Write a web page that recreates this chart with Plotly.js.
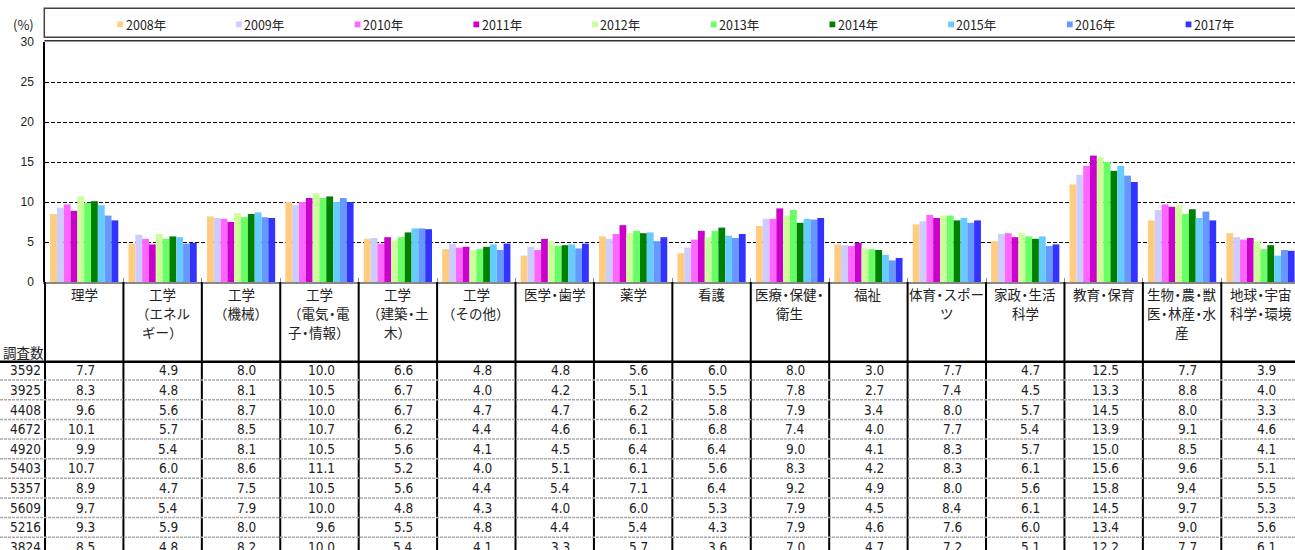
<!DOCTYPE html>
<html>
<head>
<meta charset="utf-8">
<script src="https://cdn.plot.ly/plotly-3.0.1.min.js"></script>
<style>html,body{margin:0;padding:0;background:#fff;}</style>
</head>
<body>
<div id="chart" style="width:1295px;height:550px;"></div>
<script>
// ---------------- DATA ----------------
const categories = ['理学', '工学（エネルギー）', '工学（機械）', '工学（電気・電子・情報）', '工学（建築・土木）', '工学（その他）', '医学・歯学', '薬学', '看護', '医療・保健・衛生', '福祉', '体育・スポーツ', '家政・生活科学', '教育・保育', '生物・農・獣医・林産・水産', '地球・宇宙科学・環境'];
const headerLabels = ['理学', '工学\n（エネル\nギー）', '工学\n（機械）', '工学\n（電気・電\n子・情報）', '工学\n（建築・土\n木）', '工学\n（その他）', '医学・歯学', '薬学', '看護', '医療・保健・\n衛生', '福祉', '体育・スポー\nツ', '家政・生活\n科学', '教育・保育', '生物・農・獣\n医・林産・水\n産', '地球・宇宙\n科学・環境'];
const years = ['2008年', '2009年', '2010年', '2011年', '2012年', '2013年', '2014年', '2015年', '2016年', '2017年'];
const surveyCounts = [3824, 5216, 5609, 5357, 5403, 4920, 4672, 4408, 3925, 3592];
const v2008 = [8.5, 4.8, 8.2, 10.0, 5.4, 4.1, 3.3, 5.7, 3.6, 7.0, 4.7, 7.2, 5.1, 12.2, 7.7, 6.1];
const v2009 = [9.3, 5.9, 8.0, 9.6, 5.5, 4.8, 4.4, 5.4, 4.3, 7.9, 4.6, 7.6, 6.0, 13.4, 9.0, 5.6];
const v2010 = [9.7, 5.4, 7.9, 10.0, 4.8, 4.3, 4.0, 6.0, 5.3, 7.9, 4.5, 8.4, 6.1, 14.5, 9.7, 5.3];
const v2011 = [8.9, 4.7, 7.5, 10.5, 5.6, 4.4, 5.4, 7.1, 6.4, 9.2, 4.9, 8.0, 5.6, 15.8, 9.4, 5.5];
const v2012 = [10.7, 6.0, 8.6, 11.1, 5.2, 4.0, 5.1, 6.1, 5.6, 8.3, 4.2, 8.3, 6.1, 15.6, 9.6, 5.1];
const v2013 = [9.9, 5.4, 8.1, 10.5, 5.6, 4.1, 4.5, 6.4, 6.4, 9.0, 4.1, 8.3, 5.7, 15.0, 8.5, 4.1];
const v2014 = [10.1, 5.7, 8.5, 10.7, 6.2, 4.4, 4.6, 6.1, 6.8, 7.4, 4.0, 7.7, 5.4, 13.9, 9.1, 4.6];
const v2015 = [9.6, 5.6, 8.7, 10.0, 6.7, 4.7, 4.7, 6.2, 5.8, 7.9, 3.4, 8.0, 5.7, 14.5, 8.0, 3.3];
const v2016 = [8.3, 4.8, 8.1, 10.5, 6.7, 4.0, 4.2, 5.1, 5.5, 7.8, 2.7, 7.4, 4.5, 13.3, 8.8, 4.0];
const v2017 = [7.7, 4.9, 8.0, 10.0, 6.6, 4.8, 4.8, 5.6, 6.0, 8.0, 3.0, 7.7, 4.7, 12.5, 7.7, 3.9];
const seriesValues = [v2008, v2009, v2010, v2011, v2012, v2013, v2014, v2015, v2016, v2017];
const yTickValues = [0, 5, 10, 15, 20, 25, 30];
const unitLabel = '(%)';
const countHeader = '調査数';

// ---------------- STYLE ----------------
const colors = ['#FFCC80', '#CCCCFF', '#FF66FF', '#CC00CC', '#CCFF99', '#66FF66', '#008000', '#66CCFF', '#6699FF', '#3333FF'];
const W = 1295, H = 550, L = 45, T = 42, B = 268;
const PH = H - T - B, PW = W - L;
const px = X => (X - L) / PW;
const py = Y => (T + PH - Y) / PH;
const jpFont = '"Noto Sans CJK JP", "Noto Sans", sans-serif';
const numFont = '"DejaVu Sans Condensed", Tahoma, "DejaVu Sans", sans-serif';
// tighten the full-width middle dot like a proportional Japanese font
const tighten = s => s.replace(/(.)・/g, '<span style="letter-spacing:-3px">$1・</span>');

const traces = seriesValues.map((vals, i) => ({
  type: 'bar',
  name: years[i],
  x: categories,
  y: vals,
  marker: {color: colors[i], line: {width: 0}},
  showlegend: false,
  hovertemplate: '%{x}<br>' + years[i] + ': %{y:.1f}%<extra></extra>'
}));

const shapes = [];
const annotations = [];

// legend box
shapes.push({type: 'rect', xref: 'paper', yref: 'paper', x0: px(44.3), x1: 1.02, y0: py(37.3), y1: py(8.3), line: {color: '#444', width: 1.5}, fillcolor: 'rgba(0,0,0,0)', layer: 'above'});
// plot frame top
shapes.push({type: 'line', xref: 'paper', yref: 'paper', x0: px(44.3), x1: 1.02, y0: py(40.7), y1: py(40.7), line: {color: '#333', width: 1.5}});

// legend entries
years.forEach((yr, i) => {
  const sx = 117.3 + 118.7 * i;
  shapes.push({type: 'rect', xref: 'paper', yref: 'paper', x0: px(sx), x1: px(sx + 5.8), y0: py(27.3), y1: py(21.5), line: {width: 0}, fillcolor: colors[i]});
  annotations.push({xref: 'paper', yref: 'paper', x: px(sx + 6.2), y: py(24.5), xanchor: 'left', yanchor: 'middle', showarrow: false, text: yr, font: {family: jpFont, size: 12.5, color: '#222'}});
});

// unit label
annotations.push({xref: 'paper', yref: 'paper', x: px(23), y: py(24.5), xanchor: 'center', yanchor: 'middle', showarrow: false, text: unitLabel, font: {family: jpFont, size: 13, color: '#222'}});

// table vertical lines
shapes.push({type: 'line', xref: 'paper', yref: 'paper', x0: 0, x1: 0, y0: 0, y1: py(H + 5), line: {color: '#000', width: 2}});
for (let k = 1; k <= categories.length; k++) {
  shapes.push({type: 'line', xref: 'x', yref: 'paper', x0: k - 0.5, x1: k - 0.5, y0: 0, y1: py(H + 5), line: {color: '#000', width: 2}});
}
// header bottom line
shapes.push({type: 'line', xref: 'paper', yref: 'paper', x0: px(0), x1: 1.02, y0: py(361.7), y1: py(361.7), line: {color: '#000', width: 2.5}});
// row separators
const rowTop = 370.3, rowH = 19.63;
for (let r = 0; r < years.length - 1; r++) {
  const yy = rowTop + rowH * r + rowH / 2;
  shapes.push({type: 'line', xref: 'paper', yref: 'paper', x0: px(0), x1: 1.02, y0: py(yy), y1: py(yy), line: {color: '#aaa', width: 1.5, dash: '3px,1px'}});
}

// header labels
headerLabels.forEach((lbl, i) => {
  lbl.split('\n').forEach((line, j) => {
    annotations.push({xref: 'x', yref: 'paper', x: i, y: py(293.5 + 19.3 * j), xanchor: 'center', yanchor: 'middle', showarrow: false, text: tighten(line), font: {family: jpFont, size: 13.5, color: '#222'}});
  });
});
annotations.push({xref: 'paper', yref: 'paper', x: px(23), y: py(351.5), xanchor: 'center', yanchor: 'middle', showarrow: false, text: countHeader, font: {family: jpFont, size: 13.5, color: '#222'}});

// table rows: newest year on top
const rowOrder = years.map((_, i) => years.length - 1 - i);
rowOrder.forEach((yi, r) => {
  const yy = py(rowTop + rowH * r);
  annotations.push({xref: 'paper', yref: 'paper', x: px(43), y: yy, xanchor: 'right', yanchor: 'middle', showarrow: false, text: String(surveyCounts[yi]), font: {family: numFont, size: 13.5, color: '#222'}});
  seriesValues[yi].forEach((v, ci) => {
    const off = ci === 0 ? 0.16 : 0.22;
    annotations.push({xref: 'x', yref: 'paper', x: ci + off, y: yy, xanchor: 'right', yanchor: 'middle', showarrow: false, text: v.toFixed(1), font: {family: numFont, size: 13.5, color: '#222'}});
  });
});

const layout = {
  width: W, height: H,
  margin: {l: L, r: 0, t: T, b: B, pad: 0},
  paper_bgcolor: '#fff', plot_bgcolor: '#fff',
  barmode: 'group', bargap: 0.13, bargroupgap: 0,
  showlegend: false,
  xaxis: {
    type: 'category', range: [-0.5, 15.44], showticklabels: false,
    showline: true, linecolor: '#888', linewidth: 2,
    ticks: 'inside', tickson: 'boundaries', ticklen: 4, tickcolor: '#888',
    showgrid: false, zeroline: false, fixedrange: true
  },
  yaxis: {
    range: [0, 30], tickvals: yTickValues, ticktext: yTickValues.map(String),
    showgrid: true, gridcolor: '#000', gridwidth: 1, griddash: '4px,2px',
    showline: true, linecolor: '#000', linewidth: 1.5,
    ticks: '', ticklabelstandoff: 7,
    tickfont: {family: '"Liberation Sans Narrow", "Liberation Sans", Arial, sans-serif', size: 12, color: '#222'},
    zeroline: false, fixedrange: true
  },
  shapes: shapes,
  annotations: annotations
};

Plotly.newPlot('chart', traces, layout, {displayModeBar: false, staticPlot: false});
</script>
</body>
</html>
